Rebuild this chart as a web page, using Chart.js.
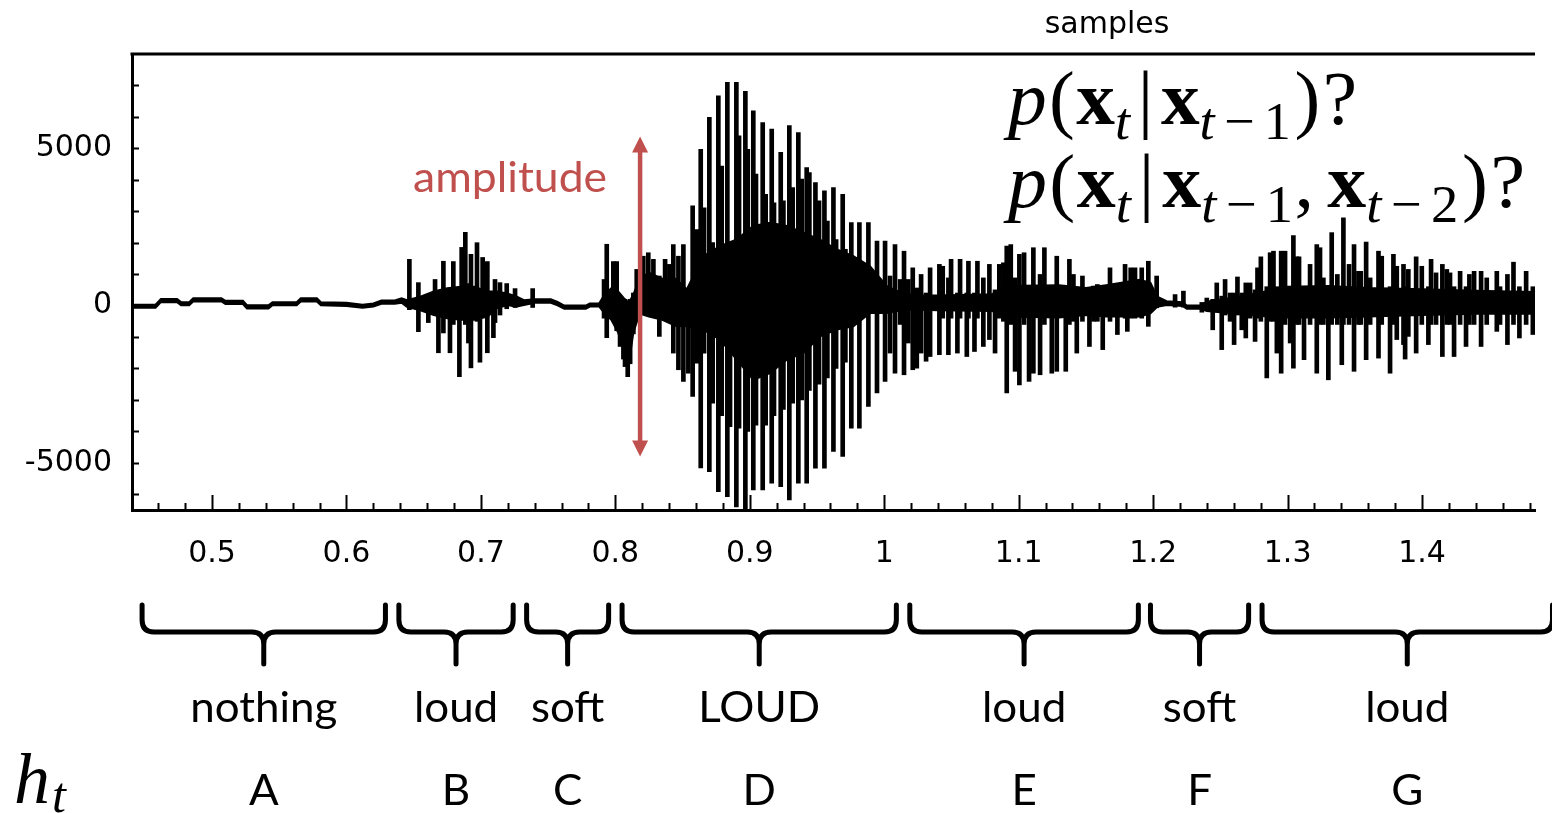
<!DOCTYPE html>
<html>
<head>
<meta charset="utf-8">
<script src="https://cdn.jsdelivr.net/npm/chart.js@4/dist/chart.umd.min.js"></script>
<style>
  html, body { margin: 0; padding: 0; background: #fff; }
  canvas { display: block; }
</style>
</head>
<body>
<canvas id="wave" width="1552" height="813"></canvas>
<script>
// ---- axis ticks ----
const xTickValues = [0.5, 0.6, 0.7, 0.8, 0.9, 1.0, 1.1, 1.2, 1.3, 1.4];
const xTickLabels = ['0.5', '0.6', '0.7', '0.8', '0.9', '1', '1.1', '1.2', '1.3', '1.4'];
const yTickValues = [-5000, 0, 5000];
const yTickLabels = ['-5000', '0', '5000'];

// ---- hidden state segments (seconds) ----
const segmentStates = ['A', 'B', 'C', 'D', 'E', 'F', 'G'];
const segmentLabels = ['nothing', 'loud', 'soft', 'LOUD', 'loud', 'soft', 'loud'];
const segmentStart = [0.448, 0.639, 0.734, 0.805, 1.019, 1.198, 1.281];
const segmentEnd   = [0.629, 0.724, 0.795, 1.009, 1.189, 1.271, 1.497];

// ---- amplitude arrow (seconds / sample value) ----
const arrowTime = 0.8184;
const arrowTop = 5380;
const arrowBottom = -4800;

// ---- dense core of the waveform: time, lower and upper envelope ----
const coreTime = [0.4405, 0.458, 0.462, 0.474, 0.477, 0.483, 0.486, 0.507, 0.510, 0.523,
  0.526, 0.542, 0.545, 0.563, 0.566, 0.578, 0.581, 0.600, 0.612, 0.620,
  0.626, 0.636, 0.641, 0.645, 0.655, 0.665, 0.675, 0.685, 0.695, 0.705,
  0.712, 0.720, 0.726, 0.732, 0.740, 0.752, 0.757, 0.762, 0.778, 0.781,
  0.788, 0.792, 0.797, 0.802, 0.806, 0.810, 0.8134, 0.818, 0.825, 0.835,
  0.845, 0.8531, 0.8654, 0.8779, 0.8903, 0.9026, 0.9150, 0.9275, 0.9398, 0.9522,
  0.9647, 0.9770, 0.9894, 1.0019, 1.0142, 1.0266, 1.040, 1.080, 1.090, 1.130,
  1.150, 1.165, 1.190, 1.198, 1.203, 1.210, 1.222, 1.225, 1.235, 1.240,
  1.260, 1.280, 1.300, 1.330, 1.360, 1.400, 1.440, 1.484];
const coreLow = [-70, -70, 110, 110, 10, 10, 130, 130, 50, 50,
  -90, -90, 10, 10, 130, 130, 10, -10, -70, -30,
  60, 60, 90, -40, -150, -300, -400, -450, -450, -350,
  -80, 20, -40, 20, 90, 90, 10, -100, -100, -30,
  -30, -250, -450, -850, -1350, -1850, -850, -250, -350, -450,
  -650, -660, -765, -1084, -1720, -2360, -2145, -1720, -1510, -978,
  -765, -660, -233, -233, -130, -130, -150, -170, -350, -380,
  -300, -350, -350, -250, -40, 20, -10, -100, -100, -170,
  -250, -330, -380, -380, -350, -300, -260, -260];
const coreHigh = [30, 30, 210, 210, 110, 110, 230, 230, 150, 150,
  10, 10, 110, 110, 230, 230, 110, 90, 30, 70,
  160, 160, 230, 170, 280, 450, 550, 600, 600, 450,
  450, 380, 300, 170, 200, 200, 120, 0, 0, 70,
  70, 350, 550, 450, 250, 80, 350, 850, 1050, 850,
  850, 510, 1570, 1890, 2100, 2530, 2635, 2530, 2316, 2100,
  1785, 1570, 1250, 615, 380, 320, 320, 360, 620, 650,
  560, 650, 820, 720, 280, 140, 110, 0, 0, 120,
  260, 420, 600, 620, 560, 520, 470, 430];

// ---- individual spikes per segment: [time, low, high] ----
const spikesB = [
  [0.6468, -130, 1470], [0.6535, -830, 730], [0.6609, -540, 300], [0.6659, -300, 830],
  [0.6684, -1500, 200], [0.6721, -870, 1410], [0.6770, -1500, 300], [0.6795, -600, 1400],
  [0.6840, -2260, 300], [0.6857, -300, 1850], [0.6884, -600, 2330], [0.6907, -1190, 700],
  [0.6926, -1980, 1630], [0.6971, -500, 2000], [0.6993, -1800, 500], [0.7013, -300, 1530],
  [0.7048, -1500, 1400], [0.7093, -1020, 300], [0.7105, -540, 830], [0.7142, -300, 730],
  [0.7192, -100, 700], [0.7254, -60, 540], [0.7385, -60, 540]
];
const spikesC = [
  [0.7916, -400, 830], [0.7936, -1020, 1950], [0.7985, -400, 1400], [0.8010, -800, 1400],
  [0.8035, -1300, 300], [0.8060, -1700, 200], [0.8072, -1940, 200], [0.8092, -2260, 100],
  [0.8110, -1850, 200], [0.8134, -900, 400], [0.8159, -500, 1150]
];
const spikesD = [
  [0.8208, -230, 1570], [0.8245, -130, 1680], [0.8283, -340, 1470], [0.8327, -980, 940],
  [0.8370, -100, 1470], [0.8402, -230, 1310], [0.8431, -1510, 1940], [0.8469, -2040, 1570],
  [0.8506, -2410, 1940], [0.8543, -2150, 510], [0.8575, -2890, 3170], [0.8605, -1830, 2420],
  [0.8635, -5160, 4970], [0.8660, -1510, 3110], [0.8699, -5280, 5990], [0.8724, -3100, 2000],
  [0.8766, -5920, 6670], [0.8791, -3500, 4440], [0.8833, -6080, 7100], [0.8853, -3850, 2000],
  [0.8900, -6400, 7100], [0.8920, -3900, 5400], [0.8967, -6500, 6810], [0.8985, -4000, 4970],
  [0.9026, -5860, 6190], [0.9046, -3800, 4180], [0.9096, -5860, 5820], [0.9118, -3800, 3540],
  [0.9163, -5650, 5610], [0.9180, -3500, 3270], [0.9230, -5760, 4870], [0.9250, -3300, 3330],
  [0.9294, -6180, 5720], [0.9319, -3100, 3750], [0.9361, -5650, 5500], [0.9386, -3000, 4020],
  [0.9423, -5650, 4390], [0.9443, -2700, 4230], [0.9488, -5170, 3910], [0.9515, -2500, 3330],
  [0.9555, -5170, 3650], [0.9577, -2300, 2690], [0.9622, -4640, 3750], [0.9642, -2000, 2100],
  [0.9691, -4800, 3540], [0.9711, -1800, 1790], [0.9755, -3900, 2640], [0.9815, -3900, 2640],
  [0.9882, -3210, 2640], [0.9946, -2780, 2050]
];
const spikesE = [
  [1.0006, -2410, 2050], [1.0043, -1510, 940], [1.0080, -2150, 1940], [1.0118, -600, 830],
  [1.0147, -2200, 1730], [1.0179, -1190, 830], [1.0212, -2040, 1200], [1.0242, -1990, 560],
  [1.0274, -1510, 990], [1.0311, -1770, 400], [1.0341, -1620, 1200], [1.0410, -1560, 1310],
  [1.0435, -400, 1250], [1.0477, -1560, 880], [1.0497, -400, 1470], [1.0544, -1510, 400],
  [1.0564, -400, 1470], [1.0614, -1620, 400], [1.0626, -400, 1410], [1.0671, -1460, 400],
  [1.0693, -400, 1410], [1.0737, -1300, 880], [1.0782, -1080, 1310], [1.0824, -1510, 500],
  [1.0856, -400, 1310], [1.0886, -500, 1360], [1.0911, -2780, 1890], [1.0941, -600, 1940],
  [1.0973, -2090, 880], [1.1005, -2520, 1630], [1.1040, -600, 1680], [1.1077, -2410, 600],
  [1.1109, -2150, 1840], [1.1159, -2200, 990], [1.1191, -600, 1840], [1.1246, -2150, 600],
  [1.1283, -2090, 1570], [1.1350, -2090, 600], [1.1377, -600, 1470], [1.1407, -500, 990],
  [1.1432, -1510, 500], [1.1474, -500, 940], [1.1526, -1300, 500], [1.1556, -500, 620],
  [1.1585, -500, 670], [1.1625, -1400, 400], [1.1679, -500, 1200], [1.1734, -920, 400],
  [1.1791, -400, 1310], [1.1808, -820, 400], [1.1833, -400, 1200], [1.1865, -400, 1200],
  [1.1915, -400, 1200], [1.1964, -660, 1410], [1.2026, -70, 940]
];
const spikesF = [
  [1.2163, -50, 350], [1.2225, -50, 460], [1.2362, -210, 100], [1.2399, -100, 240],
  [1.2443, -770, 200], [1.2473, -200, 720], [1.2510, -1400, 300], [1.2535, -300, 830],
  [1.2572, -500, 400], [1.2602, -1240, 400], [1.2627, -300, 910], [1.2659, -770, 400],
  [1.2689, -1030, 720], [1.2721, -400, 720], [1.2758, -1140, 500]
];
const spikesG = [
  [1.2776, -400, 1200], [1.2801, -500, 1550], [1.2845, -2300, 600], [1.2870, -500, 1680],
  [1.2895, -500, 1730], [1.2920, -1510, 600], [1.2952, -2150, 1730], [1.2981, -600, 1730],
  [1.3019, -1190, 600], [1.3043, -1990, 2230], [1.3068, -600, 1550], [1.3085, -600, 1550],
  [1.3122, -1720, 600], [1.3167, -600, 1310], [1.3217, -2150, 1940], [1.3241, -600, 1840],
  [1.3266, -600, 880], [1.3303, -2360, 600], [1.3328, -600, 2320], [1.3370, -600, 990],
  [1.3403, -1880, 600], [1.3415, -600, 2790], [1.3457, -600, 1310], [1.3494, -2090, 1940],
  [1.3527, -600, 1090], [1.3544, -600, 1090], [1.3584, -1720, 2020], [1.3614, -600, 880],
  [1.3676, -1670, 1730], [1.3700, -600, 1570], [1.3762, -2150, 600], [1.3787, -600, 1630],
  [1.3812, -1080, 1250], [1.3862, -1240, 1310], [1.3874, -1700, 600], [1.3898, -980, 1150],
  [1.3956, -1510, 1550], [1.3998, -600, 1250], [1.4047, -1240, 600], [1.4067, -600, 1470],
  [1.4104, -600, 1040], [1.4151, -1620, 1310], [1.4184, -600, 1150], [1.4208, -600, 1040],
  [1.4238, -1620, 600], [1.4283, -600, 1090], [1.4327, -1300, 600], [1.4352, -600, 990],
  [1.4387, -600, 1090], [1.4439, -1300, 1090], [1.4481, -600, 880], [1.4556, -820, 1090],
  [1.4580, -600, 600], [1.4635, -1240, 990], [1.4680, -600, 1380], [1.4724, -1030, 600],
  [1.4774, -600, 1090], [1.4824, -920, 600]
];

const X_MIN = 0.4405, X_MAX = 1.484;
const Y_MIN = -6500, Y_MAX = 8000;

const RED = '#C0504D';
const LABEL_FONT = '"Lato", "Open Sans", sans-serif';
const MATH_FONT = '"Liberation Serif"';
const TICK_FONT = '"DejaVu Sans", sans-serif';

// text squeezed horizontally (stand-in for a narrower face)
function drawScaledText(ctx, text, x, baseline, font, sx, align) {
    ctx.save();
    ctx.font = font;
    ctx.textAlign = align || 'center';
    ctx.textBaseline = 'alphabetic';
    ctx.translate(x, baseline);
    ctx.scale(sx, 1);
    ctx.fillText(text, 0, 0);
    ctx.restore();
}

// pieces: [text, style, isSub, gapAfter(em)]
function layoutMath(ctx, pieces, size, draw) {
    let cx = 0;
    pieces.forEach(([txt, style, sub, gap]) => {
        const fs = sub ? size * 0.7 : size;
        ctx.font = `${style ? style + ' ' : ''}${fs}px ${MATH_FONT}`;
        if (draw) ctx.fillText(txt, cx, sub ? size * 0.2 : 0);
        cx += ctx.measureText(txt).width + (gap || 0) * size;
    });
    return cx;
}

function drawMath(ctx, pieces, x, baseline, size, targetWidth) {
    ctx.save();
    const w = layoutMath(ctx, pieces, size, false);
    ctx.translate(x, baseline);
    ctx.scale(targetWidth / w, 1);
    ctx.fillStyle = '#000';
    ctx.textAlign = 'left';
    ctx.textBaseline = 'alphabetic';
    layoutMath(ctx, pieces, size, true);
    ctx.restore();
}

function drawBrace(ctx, x1, x2, yTop, yMid, yTip) {
    const xc = (x1 + x2) / 2;
    const r = 12;
    ctx.beginPath();
    ctx.moveTo(x1, yTop);
    ctx.lineTo(x1, yMid - r);
    ctx.quadraticCurveTo(x1, yMid, x1 + r, yMid);
    ctx.lineTo(xc - r, yMid);
    ctx.quadraticCurveTo(xc, yMid, xc, yMid + r);
    ctx.lineTo(xc, yTip);
    ctx.moveTo(xc, yMid + r);
    ctx.quadraticCurveTo(xc, yMid, xc + r, yMid);
    ctx.lineTo(x2 - r, yMid);
    ctx.quadraticCurveTo(x2, yMid, x2, yMid - r);
    ctx.lineTo(x2, yTop);
    ctx.stroke();
}

const decorations = {
    id: 'decorations',
    afterDatasetsDraw(chart) {
        const { ctx, chartArea: a, scales: { x, y } } = chart;
        ctx.save();

        // top frame line
        ctx.strokeStyle = '#000';
        ctx.lineWidth = 3;
        ctx.beginPath();
        ctx.moveTo(a.left - 1.5, a.top);
        ctx.lineTo(a.right, a.top);
        ctx.stroke();

        // inward tick marks
        ctx.lineWidth = 2;
        ctx.beginPath();
        for (let i = 0; i <= 52; i++) {
            const v = Math.round((0.44 + i * 0.02) * 100) / 100;
            if (v < X_MIN || v > X_MAX) continue;
            const px = Math.round(x.getPixelForValue(v)) + 0.5;
            const major = Math.abs(v * 10 - Math.round(v * 10)) < 1e-6;
            ctx.moveTo(px, a.bottom);
            ctx.lineTo(px, a.bottom - (major ? 15 : 7));
        }
        for (let v = -6000; v <= 7000; v += 1000) {
            const py = Math.round(y.getPixelForValue(v)) + 0.5;
            ctx.moveTo(a.left, py);
            ctx.lineTo(a.left + 7, py);
        }
        ctx.stroke();

        // amplitude arrow
        const ax = x.getPixelForValue(arrowTime);
        const aTop = y.getPixelForValue(arrowTop);
        const aBot = y.getPixelForValue(arrowBottom);
        ctx.strokeStyle = RED;
        ctx.fillStyle = RED;
        ctx.lineWidth = 4.5;
        ctx.beginPath();
        ctx.moveTo(ax, aTop + 12);
        ctx.lineTo(ax, aBot - 12);
        ctx.stroke();
        ctx.beginPath();
        ctx.moveTo(ax, aTop);
        ctx.lineTo(ax - 8, aTop + 16);
        ctx.lineTo(ax + 8, aTop + 16);
        ctx.closePath();
        ctx.moveTo(ax, aBot);
        ctx.lineTo(ax - 8, aBot - 16);
        ctx.lineTo(ax + 8, aBot - 16);
        ctx.closePath();
        ctx.fill();

        ctx.font = `42px ${LABEL_FONT}`;
        const ampW = ctx.measureText('amplitude').width;
        drawScaledText(ctx, 'amplitude', ax - 33, 192, `42px ${LABEL_FONT}`, 194 / ampW, 'right');

        ctx.restore();
    },
    afterDraw(chart) {
        const { ctx, scales: { x } } = chart;
        ctx.save();
        ctx.fillStyle = '#000';

        // clipped title from the original figure
        ctx.font = `30px ${TICK_FONT}`;
        ctx.textAlign = 'center';
        ctx.fillText('samples', 1107, 33);

        // conditional probability questions
        const line1 = [
            ['p', 'italic', 0, 0.03], ['(', '', 0, 0.02], ['x', 'bold', 0, 0], ['t', 'italic', 1, 0.1],
            ['|', '', 0, 0.1], ['x', 'bold', 0, 0], ['t', 'italic', 1, 0.12], ['\u2212', '', 1, 0.12],
            ['1', '', 1, 0.05], [')', '', 0, 0.03], ['?', '', 0, 0]
        ];
        const line2 = [
            ['p', 'italic', 0, 0.03], ['(', '', 0, 0.02], ['x', 'bold', 0, 0], ['t', 'italic', 1, 0.1],
            ['|', '', 0, 0.1], ['x', 'bold', 0, 0], ['t', 'italic', 1, 0.12], ['\u2212', '', 1, 0.12],
            ['1', '', 1, 0.02], [',', '', 0, 0.17], ['x', 'bold', 0, 0], ['t', 'italic', 1, 0.12],
            ['\u2212', '', 1, 0.12], ['2', '', 1, 0.05], [')', '', 0, 0.03], ['?', '', 0, 0]
        ];
        drawMath(ctx, line1, 1008, 124, 76, 349);
        drawMath(ctx, line2, 1008, 207, 76, 517);

        // braces with segment labels and hidden states
        ctx.strokeStyle = '#000';
        ctx.lineWidth = 5;
        ctx.lineCap = 'round';
        ctx.lineJoin = 'round';
        const labelFont = `42px ${LABEL_FONT}`;
        ctx.font = labelFont;
        const sx = 147 / ctx.measureText('nothing').width;
        segmentStates.forEach((s, i) => {
            const x1 = x.getPixelForValue(segmentStart[i]);
            const x2 = x.getPixelForValue(segmentEnd[i]);
            const xc = (x1 + x2) / 2;
            drawBrace(ctx, x1, x2, 605, 632, 664);
            drawScaledText(ctx, segmentLabels[i], xc, 722, labelFont, sx);
            drawScaledText(ctx, s, xc, 805, labelFont, sx);
        });

        // h_t
        ctx.textAlign = 'left';
        ctx.font = `italic 72px ${MATH_FONT}`;
        ctx.fillText('h', 14, 803);
        const hw = ctx.measureText('h').width;
        ctx.font = `italic 50px ${MATH_FONT}`;
        ctx.fillText('t', 14 + hw + 2, 812);

        ctx.restore();
    }
};

const allSpikes = [...spikesB, ...spikesC, ...spikesD, ...spikesE, ...spikesF, ...spikesG];

const ctx = document.getElementById('wave').getContext('2d');
new Chart(ctx, {
    type: 'bar',
    data: {
        datasets: [
            {
                type: 'line',
                label: 'core low',
                data: coreTime.map((t, i) => ({ x: t, y: coreLow[i] })),
                borderColor: '#000',
                borderWidth: 2,
                pointRadius: 0,
                tension: 0,
                fill: false
            },
            {
                type: 'line',
                label: 'core high',
                data: coreTime.map((t, i) => ({ x: t, y: coreHigh[i] })),
                borderColor: '#000',
                backgroundColor: '#000',
                borderWidth: 2,
                pointRadius: 0,
                tension: 0,
                fill: '-1'
            },
            {
                type: 'bar',
                label: 'spikes',
                data: allSpikes.map(([t, lo, hi]) => ({ x: t, y: [lo, hi] })),
                backgroundColor: '#000',
                borderWidth: 0,
                barThickness: 4
            }
        ]
    },
    options: {
        responsive: false,
        animation: false,
        devicePixelRatio: 1,
        layout: { padding: { top: 54, right: 17, left: 0, bottom: 0 } },
        plugins: { legend: { display: false }, tooltip: { enabled: false } },
        scales: {
            x: {
                type: 'linear',
                min: X_MIN,
                max: X_MAX,
                offset: false,
                grid: { display: false, drawTicks: false },
                border: { display: true, color: '#000', width: 3 },
                afterBuildTicks: (scale) => { scale.ticks = xTickValues.map(v => ({ value: v })); },
                afterFit: (scale) => { scale.height = 303; },
                ticks: {
                    color: '#000',
                    font: { family: 'DejaVu Sans', size: 30 },
                    padding: 26,
                    maxRotation: 0,
                    autoSkip: false,
                    callback: (v, i) => xTickLabels[i]
                }
            },
            y: {
                type: 'linear',
                min: Y_MIN,
                max: Y_MAX,
                grid: { display: false, drawTicks: false },
                border: { display: true, color: '#000', width: 3 },
                afterBuildTicks: (scale) => { scale.ticks = yTickValues.map(v => ({ value: v })); },
                afterFit: (scale) => { scale.width = 132; },
                ticks: {
                    color: '#000',
                    font: { family: 'DejaVu Sans', size: 30 },
                    padding: 20,
                    autoSkip: false,
                    callback: (v, i) => yTickLabels[i]
                }
            }
        }
    },
    plugins: [decorations]
});
</script>
</body>
</html>
